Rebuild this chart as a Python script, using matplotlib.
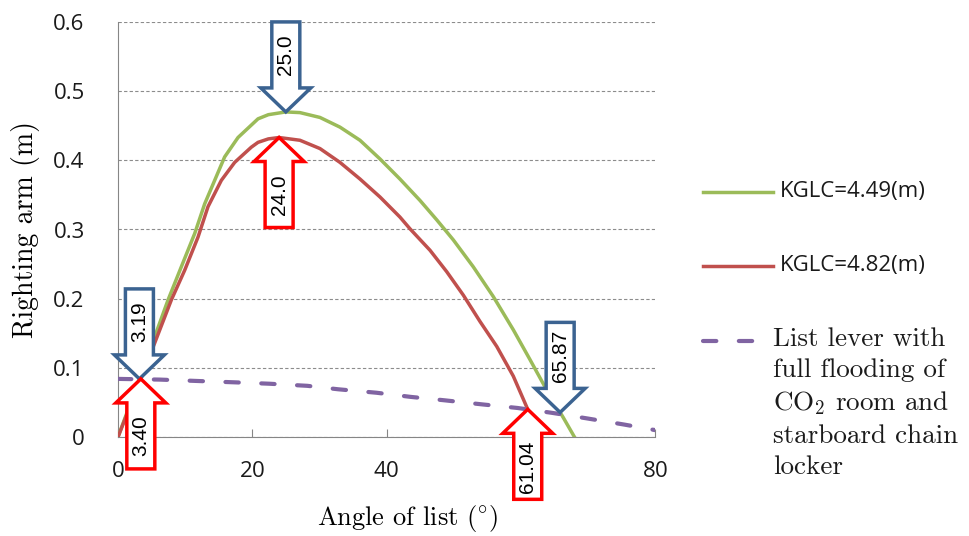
import numpy as np
import matplotlib
matplotlib.use("Agg")
import matplotlib.pyplot as plt
import matplotlib.transforms as mtransforms
from matplotlib.patches import Polygon
from matplotlib.lines import Line2D

# righting arm curves (m) against angle of list (deg)
angle_449 = [0, 3.19, 7.45, 9.43, 11.42, 12.91, 14.40, 15.89, 17.88, 20.86,
             22.4, 25.0, 27.11, 30.09, 33.07, 36.05, 39.03, 42.0, 44.99, 47.48,
             49.95, 52.93, 55.91, 58.89, 61.37, 63.86, 66.34, 68.0]
arm_449 = [0, 0.084, 0.198, 0.246, 0.294, 0.337, 0.371, 0.405, 0.433, 0.460,
           0.466, 0.470, 0.469, 0.462, 0.448, 0.429, 0.402, 0.373, 0.342, 0.314,
           0.285, 0.246, 0.203, 0.155, 0.112, 0.068, 0.028, 0.0]

angle_482 = [0, 3.40, 7.94, 9.93, 11.92, 13.41, 15.39, 17.38, 19.86, 20.86,
             22.4, 24.0, 27.11, 30.09, 33.07, 36.05, 39.03, 42.0, 43.5, 46.48,
             48.97, 51.45, 53.93, 56.42, 58.89, 61.04, 63.0]
arm_482 = [0, 0.084, 0.198, 0.241, 0.289, 0.333, 0.371, 0.397, 0.419, 0.426,
           0.431, 0.433, 0.429, 0.417, 0.397, 0.373, 0.347, 0.318, 0.301, 0.270,
           0.239, 0.205, 0.167, 0.131, 0.088, 0.040, 0.0]

# heeling lever with CO2 room and starboard chain locker flooded
angle_lever = [0, 6.2, 11.8, 17.5, 22.6, 28.2, 32.8, 38.5, 43.6, 48.7, 54.4,
               59.5, 64.6, 69.8, 75.4, 80]
lever = [0.084, 0.083, 0.081, 0.079, 0.077, 0.074, 0.069, 0.064, 0.058, 0.053,
         0.047, 0.042, 0.035, 0.027, 0.018, 0.010]

# angles picked out with block arrows
marks_449 = [3.19, 25.0, 65.87]
marks_482 = [3.40, 24.0, 61.04]
mark_labels_449 = ["3.19", "25.0", "65.87"]
mark_labels_482 = ["3.40", "24.0", "61.04"]

x_ticks = [0, 20, 40, 60, 80]
y_ticks = [0, 0.1, 0.2, 0.3, 0.4, 0.5, 0.6]
y_tick_labels = ["0", "0.1", "0.2", "0.3", "0.4", "0.5", "0.6"]

legend_labels = [
    "KGLC=4.49(m)",
    "KGLC=4.82(m)",
    "List lever with\nfull flooding of\nCO$_2$ room and\nstarboard chain\nlocker",
]

GREEN = "#9bbb59"
RED = "#c0504d"
PURPLE = "#8064a2"
BLUE = "#3b6391"
ARROW_RED = "#ff0000"
AXIS_GREY = "#868686"
SANS = ["Open Sans", "DejaVu Sans"]
SERIF = ["cmr10", "DejaVu Serif"]
LEVER_DASH = (3.2, 5.4)

plt.rcParams["mathtext.fontset"] = "cm"
plt.rcParams["axes.formatter.use_mathtext"] = True

W, H = 969, 536
fig = plt.figure(figsize=(W / 100, H / 100), dpi=100)
ax = fig.add_axes([118 / W, 1 - 437 / H, 537 / W, 415 / H])

l449, = ax.plot(angle_449, arm_449, color=GREEN, lw=2.5, zorder=3)
l482, = ax.plot(angle_482, arm_482, color=RED, lw=2.5, zorder=3)
llev, = ax.plot(angle_lever, lever, color=PURPLE, lw=3, dashes=LEVER_DASH,
                dash_capstyle="round", zorder=3)

ax.set_xlim(0, 80)
ax.set_ylim(0, 0.6)
ax.set_xticks(x_ticks)
ax.set_yticks(y_ticks)
ax.set_yticklabels(y_tick_labels)
ax.tick_params(axis="x", direction="in", length=6, color=AXIS_GREY, pad=17)
ax.tick_params(axis="y", length=0, pad=24)
ax.tick_params(labelsize=16, labelfontfamily=SANS, labelcolor="#1a1a1a")
ax.yaxis.grid(True, ls=(0, (3, 2)), color="#8c8c8c", lw=0.8)
ax.set_axisbelow(True)
for side in ("top", "right"):
    ax.spines[side].set_visible(False)
for side in ("left", "bottom"):
    ax.spines[side].set_color(AXIS_GREY)

# the 61.04 arrow sits over the "60" label
ax.get_xticklabels()[3].set_visible(False)

ax.set_xlabel("Angle of list ($^{\\circ}$)", family=SERIF, fontsize=19, va="center")
ax.set_ylabel("Righting arm (m)", family=SERIF, fontsize=20, va="center")
ax.xaxis.set_label_coords(0.54, -0.196)
ax.yaxis.set_label_coords(-0.173, 0.5)


def block_arrow(x, y, label, color, pointing):
    # outline in pixels, tip at the origin, drawn pointing down
    length, head, head_hw, shaft_hw = 90, 24, 25, 14
    pts = np.array([[0, 0], [-head_hw, head], [-shaft_hw, head], [-shaft_hw, length],
                    [shaft_hw, length], [shaft_hw, head], [head_hw, head]], float)
    sign = 1 if pointing == "down" else -1
    pts[:, 1] *= sign
    trans = (mtransforms.Affine2D().scale(0.01) + fig.dpi_scale_trans
             + mtransforms.ScaledTranslation(x, y, ax.transData))
    ax.add_patch(Polygon(pts, closed=True, transform=trans, facecolor="white",
                         edgecolor=color, lw=2.5, joinstyle="miter",
                         clip_on=False, zorder=5))
    ax.annotate(label, xy=(x, y), xytext=(0, sign * (head + length) / 2),
                textcoords="offset pixels", rotation=90, ha="center",
                va="center", fontsize=15, family=["Liberation Sans"],
                zorder=6, annotation_clip=False)


for m, lab in zip(marks_449, mark_labels_449):
    block_arrow(m, np.interp(m, angle_449, arm_449), lab, BLUE, "down")
for m, lab in zip(marks_482, mark_labels_482):
    block_arrow(m, np.interp(m, angle_482, arm_482), lab, ARROW_RED, "up")

# legend drawn beside the axes, one row per series
rows = [
    (l449, legend_labels[0], 192, 773, 780, SANS, 16, "center"),
    (l482, legend_labels[1], 266, 773, 780, SANS, 16, "center"),
    (llev, legend_labels[2], 341, 760, 773, SERIF, 19.5, "top"),
]
for line, label, py, x_end, x_text, family, size, va in rows:
    handle = Line2D([703 / W, x_end / W], [1 - py / H, 1 - py / H],
                    transform=fig.transFigure, color=line.get_color(),
                    lw=line.get_linewidth(), dash_capstyle="round")
    if line is llev:
        handle.set_dashes(LEVER_DASH)
    fig.add_artist(handle)
    ty = 1 - py / H if va == "center" else 1 - (py - 14) / H
    fig.text(x_text / W, ty, label, ha="left", va=va, family=family,
             fontsize=size, color="#1a1a1a", linespacing=1.38)

fig.savefig("out.png", dpi=100)
